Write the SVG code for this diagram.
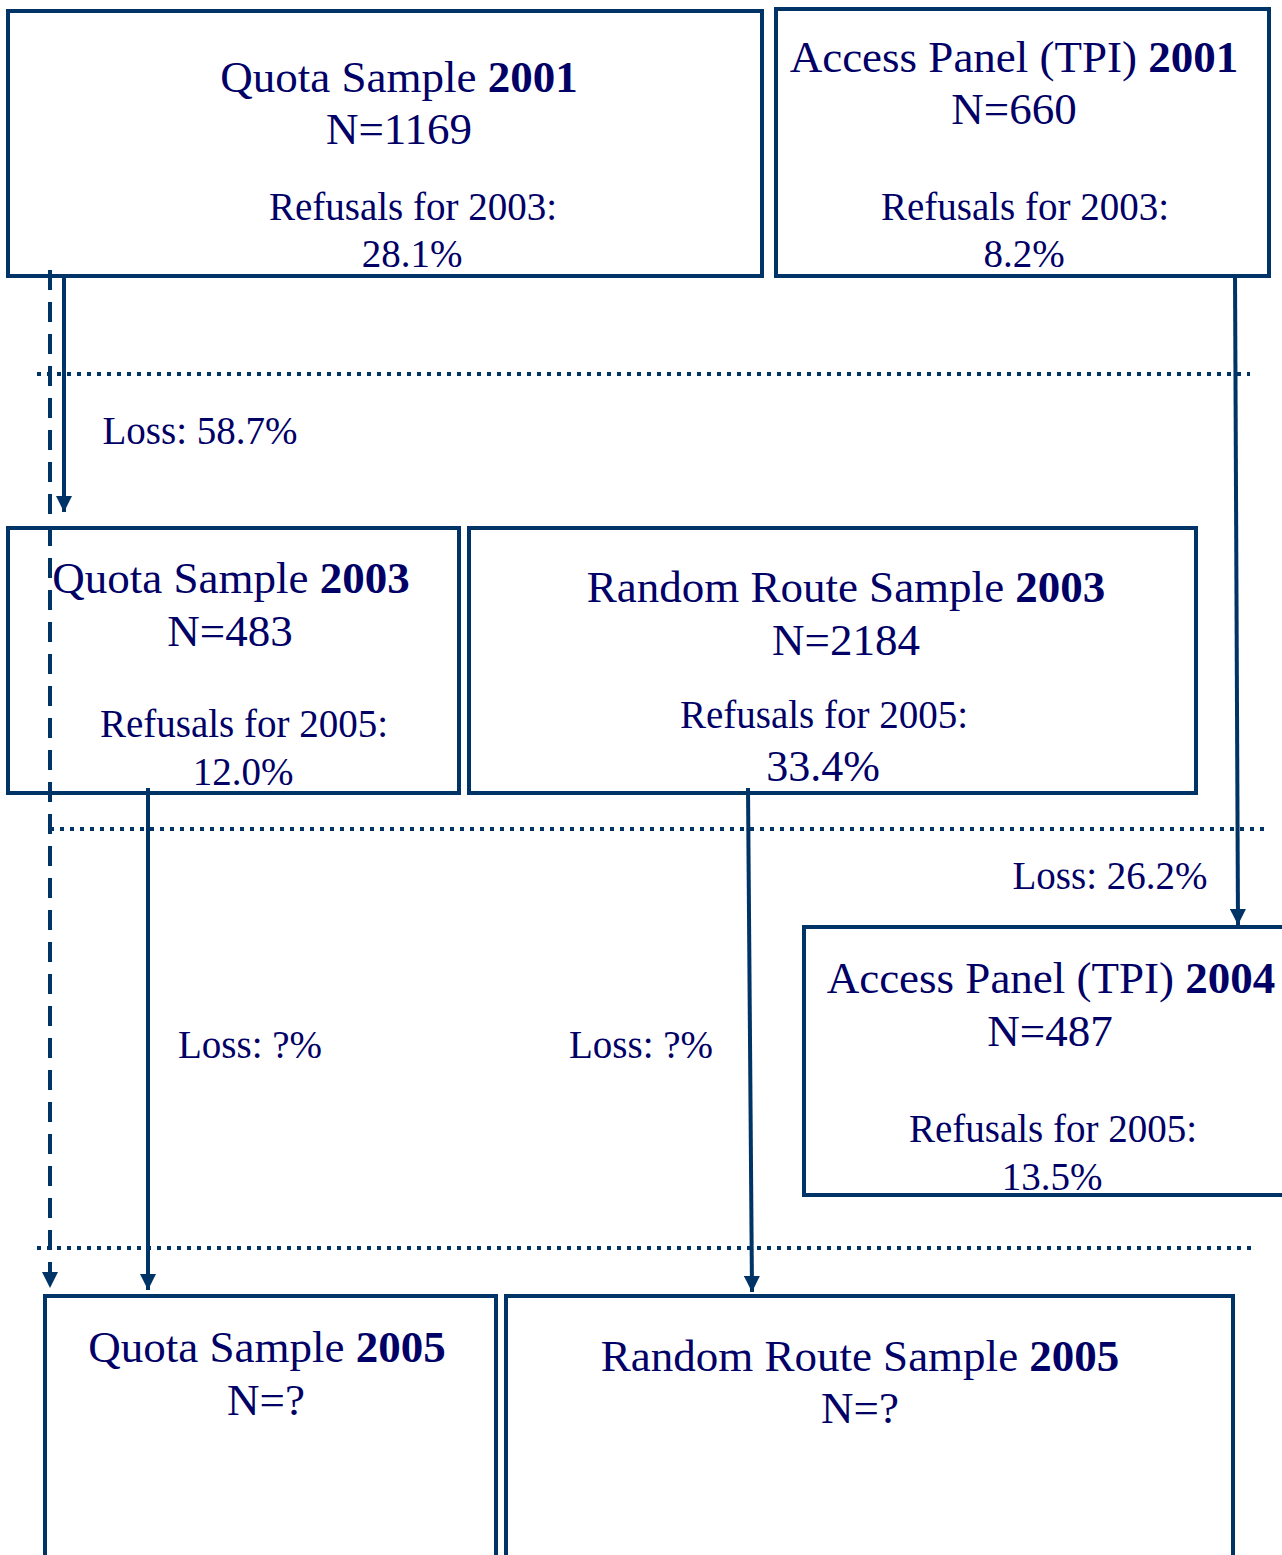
<svg xmlns="http://www.w3.org/2000/svg" width="1282" height="1555" viewBox="0 0 1282 1555">
<style>
.box{fill:#fff;stroke:#003366;stroke-width:4}
.t{font-family:"Liberation Serif","Times New Roman",serif;fill:#000066;text-anchor:middle}
.big{font-size:45px}
.sm{font-size:39px}
.b{font-weight:bold}
.dot{stroke:#003366;stroke-width:4;stroke-dasharray:4 6;fill:none}
.arr{stroke:#003366;stroke-width:4;fill:none}
</style>
<defs>
<marker id="ah" viewBox="0 0 10 10" refX="10" refY="5" markerWidth="4" markerHeight="4" markerUnits="strokeWidth" orient="auto">
<path d="M0,0 L10,5 L0,10 z" fill="#003366"/>
</marker>
</defs>
<rect width="1282" height="1555" fill="#fff"/>
<g id="n1"><rect class="box" x="8" y="11" width="754" height="265"/>
<text class="t big" x="399" y="92">Quota Sample <tspan class="b">2001</tspan></text>
<text class="t big" x="399" y="144">N=1169</text>
<text class="t sm" x="413" y="220">Refusals for 2003:</text>
<text class="t sm" x="412" y="267">28.1%</text></g>
<g id="n2"><rect class="box" x="776" y="9" width="493" height="267"/>
<text class="t big" x="1014" y="72">Access Panel (TPI) <tspan class="b">2001</tspan></text>
<text class="t big" x="1014" y="124">N=660</text>
<text class="t sm" x="1025" y="220">Refusals for 2003:</text>
<text class="t sm" x="1024" y="267">8.2%</text></g>
<g id="n3"><rect class="box" x="8" y="528" width="451" height="265"/>
<text class="t big" x="231" y="593">Quota Sample <tspan class="b">2003</tspan></text>
<text class="t big" x="230" y="646">N=483</text>
<text class="t sm" x="244" y="737">Refusals for 2005:</text>
<text class="t sm" x="243" y="785">12.0%</text></g>
<g id="n4"><rect class="box" x="469" y="528" width="727" height="265"/>
<text class="t big" x="846" y="602">Random Route Sample <tspan class="b">2003</tspan></text>
<text class="t big" x="846" y="655">N=2184</text>
<text class="t sm" x="824" y="728">Refusals for 2005:</text>
<text class="t" style="font-size:44px" x="823" y="781">33.4%</text></g>
<g id="n5"><rect class="box" x="804" y="927" width="480" height="268"/>
<text class="t big" x="1051" y="993">Access Panel (TPI) <tspan class="b">2004</tspan></text>
<text class="t big" x="1050" y="1046">N=487</text>
<text class="t sm" x="1053" y="1142">Refusals for 2005:</text>
<text class="t sm" x="1052" y="1190">13.5%</text></g>
<g id="n6"><rect class="box" x="45" y="1296" width="451" height="270"/>
<text class="t big" x="267" y="1362">Quota Sample <tspan class="b">2005</tspan></text>
<text class="t big" x="266" y="1415">N=?</text></g>
<g id="n7"><rect class="box" x="506" y="1296" width="727" height="270"/>
<text class="t big" x="860" y="1371">Random Route Sample <tspan class="b">2005</tspan></text>
<text class="t big" x="860" y="1423">N=?</text></g>
<g id="dividers">
<line class="dot" x1="37" y1="374" x2="1250" y2="374"/>
<line class="dot" x1="50" y1="829" x2="1268" y2="829"/>
<line class="dot" x1="37" y1="1248" x2="1252" y2="1248"/>
</g>
<g id="connectors">
<line class="arr" x1="50" y1="270" x2="50" y2="1288" stroke-dasharray="20 12" marker-end="url(#ah)"/>
<line class="arr" x1="64" y1="276" x2="64" y2="512" marker-end="url(#ah)"/>
<line class="arr" x1="1235" y1="274" x2="1238" y2="925" marker-end="url(#ah)"/>
<line class="arr" x1="148" y1="788" x2="148" y2="1290" marker-end="url(#ah)"/>
<line class="arr" x1="748" y1="788" x2="752" y2="1292" marker-end="url(#ah)"/>
</g>
<g id="labels">
<text class="t sm" x="200" y="444">Loss: 58.7%</text>
<text class="t sm" x="1110" y="889">Loss: 26.2%</text>
<text class="t sm" x="250" y="1058">Loss: ?%</text>
<text class="t sm" x="641" y="1058">Loss: ?%</text>
</g>
</svg>
